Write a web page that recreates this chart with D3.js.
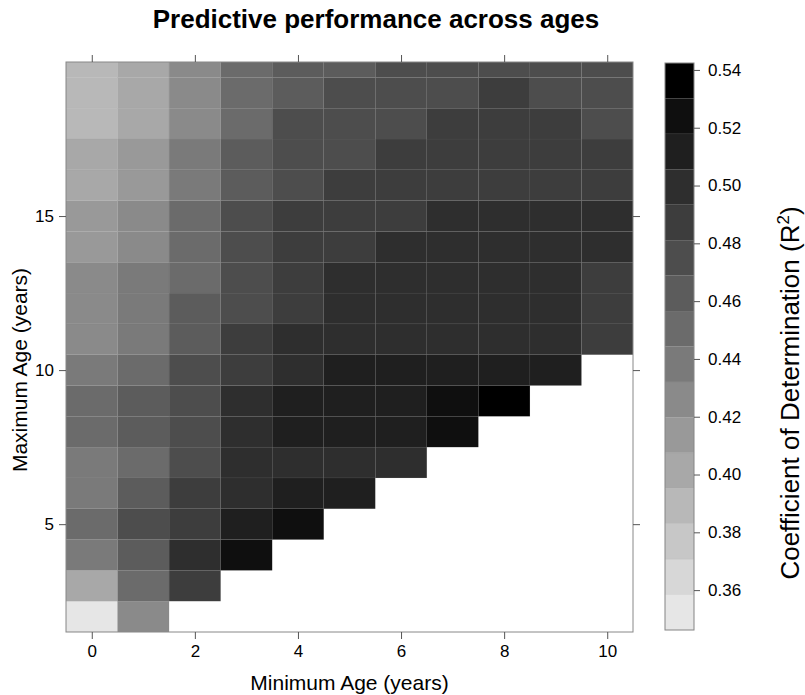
<!DOCTYPE html>
<html>
<head>
<meta charset="utf-8">
<script src="https://cdn.jsdelivr.net/npm/d3@7"></script>
<style>
  body { margin: 0; background: #fff; }
  svg { display: block; font-family: "Liberation Sans", Arial, Helvetica, sans-serif; }
  .axis text { font-size: 17px; fill: #000; }
  .axis line { stroke: #555; }
</style>
</head>
<body>
<svg id="chart" width="805" height="695"></svg>
<script>
// ── data ───────────────────────────────────────────────────────────────────
const minAges = [0, 1, 2, 3, 4, 5, 6, 7, 8, 9, 10];
// first (lowest) maximum age present for each minimum age column
const firstMaxAge = [2, 2, 3, 4, 5, 6, 7, 8, 9, 10, 11];
// R² per column, from the lowest maximum age up to 20
const r2 = [
  [0.347, 0.401, 0.438, 0.450, 0.438, 0.438, 0.450, 0.450, 0.438, 0.426, 0.426, 0.426, 0.414, 0.414, 0.401, 0.401, 0.389, 0.389, 0.389],
  [0.426, 0.450, 0.463, 0.475, 0.463, 0.450, 0.463, 0.463, 0.450, 0.438, 0.438, 0.438, 0.426, 0.426, 0.414, 0.414, 0.401, 0.401, 0.401],
  [0.487, 0.499, 0.487, 0.487, 0.475, 0.475, 0.475, 0.475, 0.463, 0.463, 0.450, 0.450, 0.450, 0.438, 0.438, 0.426, 0.426, 0.426],
  [0.524, 0.512, 0.499, 0.499, 0.499, 0.499, 0.487, 0.487, 0.475, 0.475, 0.475, 0.475, 0.463, 0.463, 0.450, 0.450, 0.450],
  [0.524, 0.512, 0.499, 0.512, 0.512, 0.499, 0.499, 0.487, 0.487, 0.487, 0.487, 0.475, 0.475, 0.475, 0.463, 0.463],
  [0.512, 0.499, 0.512, 0.512, 0.512, 0.499, 0.499, 0.499, 0.487, 0.487, 0.487, 0.475, 0.475, 0.475, 0.463],
  [0.499, 0.512, 0.512, 0.512, 0.499, 0.499, 0.499, 0.499, 0.487, 0.487, 0.487, 0.475, 0.475, 0.475],
  [0.524, 0.524, 0.512, 0.499, 0.499, 0.499, 0.499, 0.499, 0.487, 0.487, 0.487, 0.475, 0.475],
  [0.542, 0.512, 0.499, 0.499, 0.499, 0.499, 0.499, 0.487, 0.487, 0.487, 0.487, 0.475],
  [0.512, 0.499, 0.499, 0.499, 0.499, 0.499, 0.487, 0.487, 0.487, 0.475, 0.475],
  [0.487, 0.487, 0.487, 0.499, 0.499, 0.487, 0.487, 0.475, 0.475, 0.475]
];
const keyRange = [0.3462, 0.5424];
const grays = ['#e6e6e6','#d7d7d7','#c7c7c7','#b8b8b8','#a8a8a8','#999999','#8a8a8a','#7a7a7a',
               '#6b6b6b','#5c5c5c','#4d4d4d','#3d3d3d','#2e2e2e','#1f1f1f','#0f0f0f','#000000'];
const xTicks = [0, 2, 4, 6, 8, 10];
const yTicks = [5, 10, 15];
const keyTicks = [0.36, 0.38, 0.40, 0.42, 0.44, 0.46, 0.48, 0.50, 0.52, 0.54];

// ── layout ─────────────────────────────────────────────────────────────────
const svg = d3.select('#chart');
const P = { left: 66, right: 633, top: 62, bottom: 632 };
const K = { left: 665, right: 694, top: 63, bottom: 630 };

const x = d3.scaleLinear().domain([-0.5, 10.5]).range([P.left, P.right]);
const y = d3.scaleLinear().domain([1.5, 20]).range([P.bottom, P.top]);
const color = d3.scaleQuantize().domain(keyRange).range(grays);
const yKey = d3.scaleLinear().domain(keyRange).range([K.bottom, K.top]);

// ── cells ──────────────────────────────────────────────────────────────────
const cells = [];
minAges.forEach((a, i) => {
  r2[i].forEach((v, j) => cells.push({ minAge: a, maxAge: firstMaxAge[i] + j, v }));
});

svg.append('clipPath').attr('id', 'panel-clip')
  .append('rect').attr('x', P.left).attr('y', P.top)
  .attr('width', P.right - P.left).attr('height', P.bottom - P.top);

svg.append('g').attr('clip-path', 'url(#panel-clip)')
  .selectAll('rect').data(cells).join('rect')
  .attr('x', d => x(d.minAge - 0.5))
  .attr('width', d => x(d.minAge + 0.5) - x(d.minAge - 0.5))
  .attr('y', d => y(d.maxAge + 0.5))
  .attr('height', d => y(d.maxAge - 0.5) - y(d.maxAge + 0.5))
  .attr('fill', d => color(d.v))
  .attr('stroke', 'rgba(128,128,128,0.1)').attr('stroke-width', 0.6);

svg.append('rect').attr('x', P.left).attr('y', P.top)
  .attr('width', P.right - P.left).attr('height', P.bottom - P.top)
  .attr('fill', 'none').attr('stroke', '#888');

// ── axes ───────────────────────────────────────────────────────────────────
const gx = svg.append('g').attr('class', 'axis').attr('transform', `translate(0,${P.bottom})`)
  .call(d3.axisBottom(x).tickValues(xTicks).tickSize(7).tickPadding(6).tickSizeOuter(0));
const gxt = svg.append('g').attr('class', 'axis').attr('transform', `translate(0,${P.top})`)
  .call(d3.axisTop(x).tickValues(xTicks).tickSize(7).tickFormat('').tickSizeOuter(0));
const gy = svg.append('g').attr('class', 'axis').attr('transform', `translate(${P.left},0)`)
  .call(d3.axisLeft(y).tickValues(yTicks).tickSize(7).tickPadding(5).tickSizeOuter(0));
const gyr = svg.append('g').attr('class', 'axis').attr('transform', `translate(${P.right},0)`)
  .call(d3.axisRight(y).tickValues(yTicks).tickSize(7).tickFormat('').tickSizeOuter(0));
[gx, gxt, gy, gyr].forEach(g => g.select('.domain').remove());

// ── colour key ─────────────────────────────────────────────────────────────
const bands = grays.map(c => {
  const [lo, hi] = color.invertExtent(c);
  return { c, lo, hi };
});
svg.append('g').selectAll('rect').data(bands).join('rect')
  .attr('x', K.left).attr('width', K.right - K.left)
  .attr('y', d => yKey(d.hi)).attr('height', d => yKey(d.lo) - yKey(d.hi))
  .attr('fill', d => d.c)
  .attr('stroke', 'rgba(128,128,128,0.1)').attr('stroke-width', 0.6);
svg.append('rect').attr('x', K.left).attr('y', K.top)
  .attr('width', K.right - K.left).attr('height', K.bottom - K.top)
  .attr('fill', 'none').attr('stroke', '#888');
const gk = svg.append('g').attr('class', 'axis').attr('transform', `translate(${K.right},0)`)
  .call(d3.axisRight(yKey).tickValues(keyTicks).tickSize(6).tickPadding(8)
    .tickFormat(d3.format('.2f')).tickSizeOuter(0));
gk.select('.domain').remove();

// ── titles ─────────────────────────────────────────────────────────────────
svg.append('text').attr('x', 376).attr('y', 28).attr('text-anchor', 'middle')
  .attr('font-size', 26).attr('font-weight', 'bold').text('Predictive performance across ages');

svg.append('text').attr('x', (P.left + P.right) / 2).attr('y', 690).attr('text-anchor', 'middle')
  .attr('font-size', 21).text('Minimum Age (years)');

svg.append('text').attr('transform', 'translate(27,370) rotate(-90)')
  .attr('text-anchor', 'middle').attr('font-size', 21).text('Maximum Age (years)');

const kt = svg.append('text').attr('transform', 'translate(799,393) rotate(-90)')
  .attr('text-anchor', 'middle').attr('font-size', 26);
kt.append('tspan').text('Coefficient of Determination (R');
kt.append('tspan').attr('dy', -10).attr('font-size', 17).text('2');
kt.append('tspan').attr('dy', 10).text(')');
</script>
</body>
</html>
